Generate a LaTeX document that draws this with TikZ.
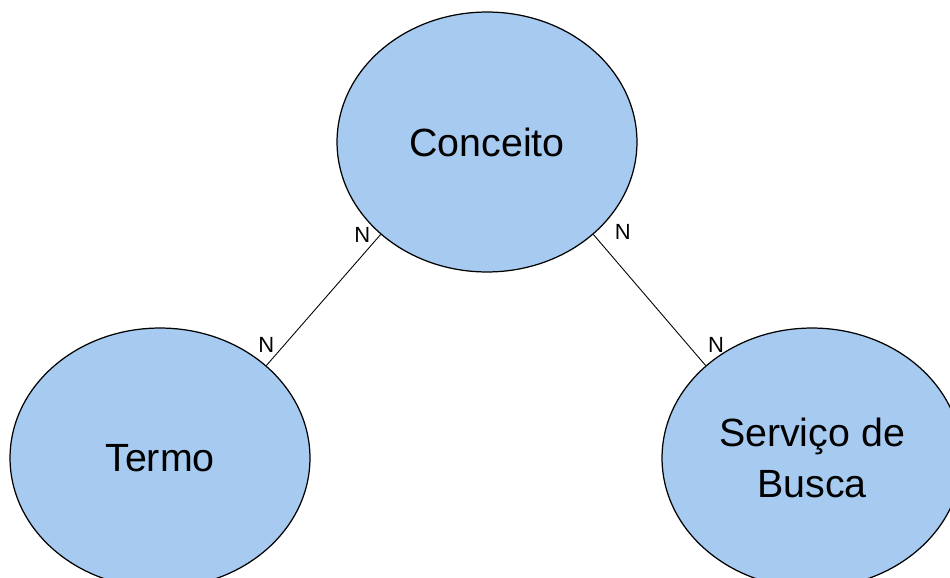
\documentclass[tikz,border=0pt]{standalone}
\usepackage{fontspec}
\setmainfont{Liberation Sans}
\usepackage{tikz}
\usetikzlibrary{shapes.geometric, positioning}

\definecolor{entityblue}{RGB}{166,202,240}

\begin{document}
\begin{tikzpicture}[
    x=0.02cm, y=-0.02cm,
    entity/.style={
        ellipse,
        draw=black,
        fill=entityblue,
        line width=0.7pt,
        minimum width=6cm,
        minimum height=5.2cm,
        inner sep=0pt,
        align=center,
        font=\fontsize{22.4}{29}\selectfont
    },
    card/.style={
        inner sep=0pt,
        font=\fontsize{12.5}{14}\selectfont
    },
    relation/.style={
        draw=black,
        line width=0.5pt
    }
]

\useasboundingbox (0,0) rectangle (950,578);

% --- entity nodes ---
\node (conceito) [entity] at (487,142) {Conceito};
\node (termo) [entity] at (160,458) {Termo};
\node (servico) [entity] at (812,458) {Serviço de\\Busca};

% --- relations ---
\draw [relation] (conceito.221) --
    node[card, at start, anchor=east, xshift=-0.2cm] (n1) {N}
    node[card, at end, anchor=south, yshift=0.26cm] (n2) {N}
    (termo.41);
\draw [relation] (conceito.319) --
    node[card, at start, anchor=west, xshift=0.42cm, yshift=0.05cm] (n3) {N}
    node[card, at end, anchor=south west, xshift=0.04cm, yshift=0.26cm] (n4) {N}
    (servico.139);

\end{tikzpicture}
\end{document}
